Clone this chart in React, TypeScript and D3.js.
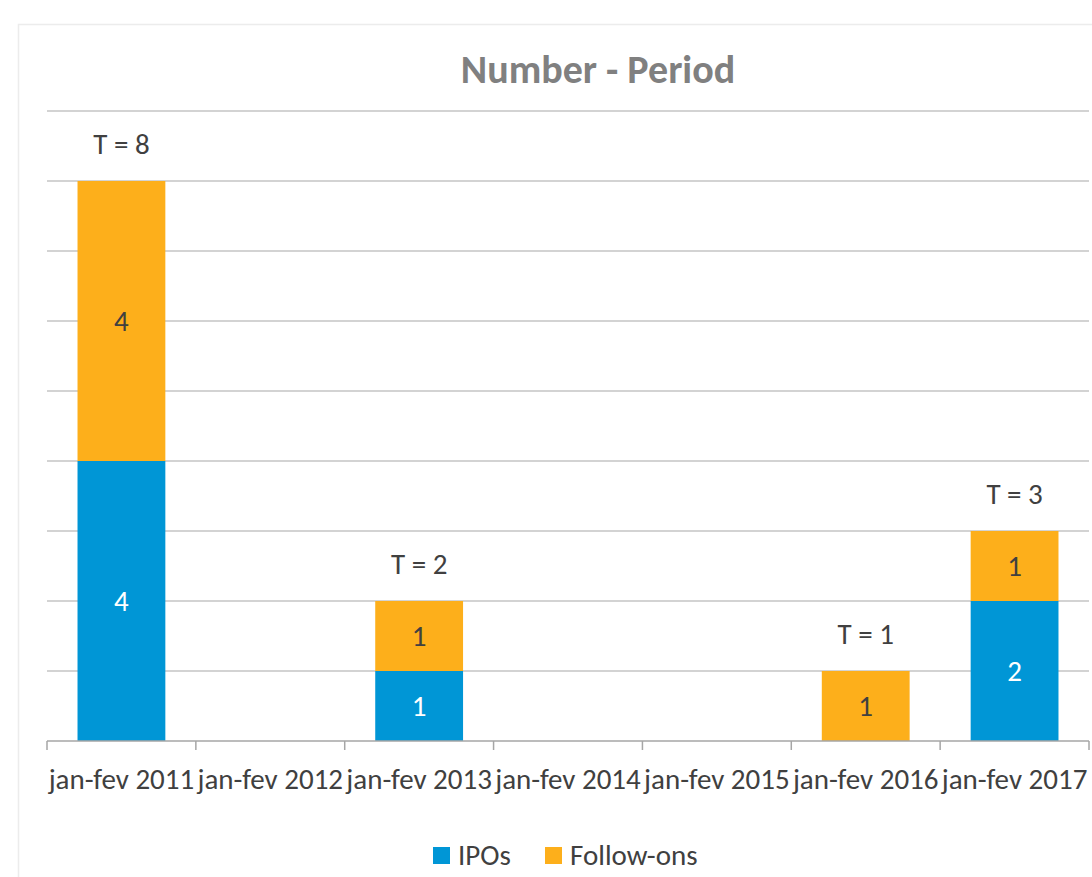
import React from "react";
import * as d3 from "d3";

const categories = ["jan-fev 2011", "jan-fev 2012", "jan-fev 2013", "jan-fev 2014", "jan-fev 2015", "jan-fev 2016", "jan-fev 2017"];
const ipos = [4, 0, 1, 0, 0, 0, 2];
const followOns = [4, 0, 1, 0, 0, 1, 1];
const totals = [8, 0, 2, 0, 0, 1, 3];
const yTicks = [0, 1, 2, 3, 4, 5, 6, 7, 8, 9];
const seriesNames = ["IPOs", "Follow-ons"];

const W = 1092, H = 877;
const left = 47, right = 1089, top = 111, bottom = 741;
const BLUE = "#0096d6";
const ORANGE = "#fdaf1b";
const FONT = "Carlito, 'Open Sans', 'Noto Sans', sans-serif";
const FS = 29;

export default function App() {
  const x = d3.scaleBand<string>().domain(categories).range([left, right]).paddingInner(0.41).paddingOuter(0.205);
  const xb = d3.scaleBand<string>().domain(categories).range([left, right]).padding(0);
  const y = d3.scaleLinear().domain([0, 9]).range([bottom, top]);
  const series = [
    { name: seriesNames[0], values: ipos, color: BLUE, text: "#ffffff" },
    { name: seriesNames[1], values: followOns, color: ORANGE, text: "#404040" },
  ];
  const tickXs = categories.map((c) => xb(c)!).concat([right]);
  return (
    <svg width={W} height={H} style={{ position: "absolute", left: 0, top: 0 }} fontFamily={FONT}>
      <rect x={0} y={0} width={W} height={H} fill="#ffffff" />
      <rect x={18.5} y={24.5} width={W + 20} height={H + 20} fill="#ffffff" stroke="#ececec" strokeWidth={1.5} />
      <text x={598} y={83} textAnchor="middle" fontSize={40} fontWeight="bold" fill="#808080">Number - Period</text>
      {yTicks.filter((t) => t > 0).map((t) => (
        <line key={t} x1={left} x2={right} y1={y(t)} y2={y(t)} stroke="#c4c4c4" strokeWidth={1.5} />
      ))}
      {series.map((s, si) =>
        categories.map((c, i) => {
          const base = si === 0 ? 0 : ipos[i];
          const v = s.values[i];
          if (!v) return null;
          const y0 = y(base), y1 = y(base + v);
          return (
            <g key={s.name + c}>
              <rect x={x(c)} y={y1} width={x.bandwidth()} height={y0 - y1} fill={s.color} />
              <text x={x(c)! + x.bandwidth() / 2} y={(y0 + y1) / 2 + 10} textAnchor="middle" fontSize={FS} fill={s.text}>{v}</text>
            </g>
          );
        })
      )}
      {categories.map((c, i) => totals[i] > 0 ? (
        <text key={"t" + c} x={x(c)! + x.bandwidth() / 2} y={y(totals[i]) - 27} textAnchor="middle" fontSize={FS} fill="#404040">{"T = " + totals[i]}</text>
      ) : null)}
      <line x1={left} x2={right} y1={bottom} y2={bottom} stroke="#a6a6a6" strokeWidth={1.5} />
      {tickXs.map((tx, i) => (
        <line key={"k" + i} x1={tx} x2={tx} y1={bottom} y2={bottom + 9} stroke="#a6a6a6" strokeWidth={1.5} />
      ))}
      {categories.map((c) => (
        <text key={"l" + c} x={xb(c)! + xb.bandwidth() / 2} y={789} textAnchor="middle" fontSize={FS} fill="#404040">{c}</text>
      ))}
      <g>
        <rect x={433} y={847} width={17} height={17} fill={BLUE} />
        <text x={458} y={865} fontSize={FS} fill="#404040">{seriesNames[0]}</text>
        <rect x={545} y={847} width={17} height={17} fill={ORANGE} />
        <text x={570} y={865} fontSize={FS} fill="#404040">{seriesNames[1]}</text>
      </g>
    </svg>
  );
}
